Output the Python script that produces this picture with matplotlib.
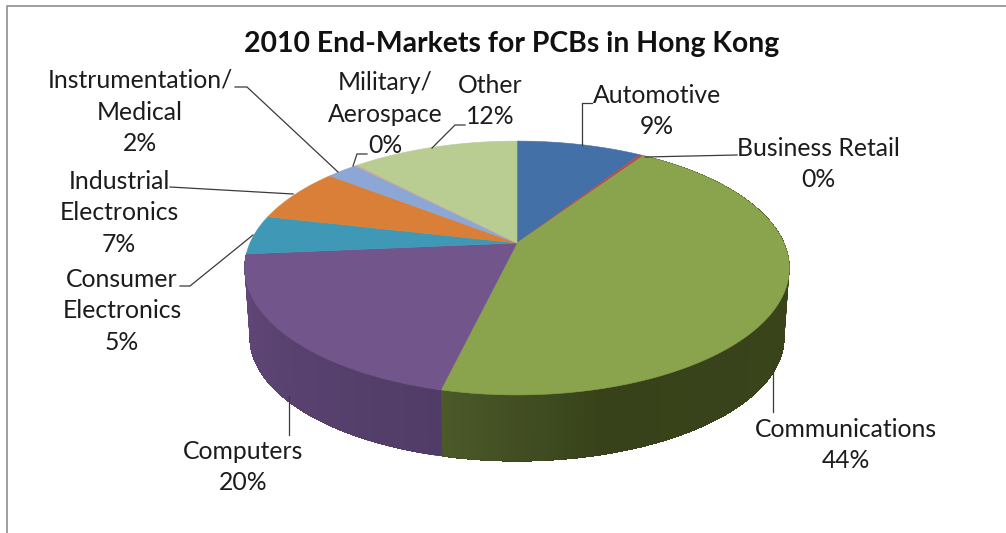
import numpy as np
import matplotlib
matplotlib.use("Agg")
import matplotlib.pyplot as plt
from matplotlib.colors import to_rgb

plt.rcParams['font.family'] = ['Lato', 'DejaVu Sans']

# Data, clockwise from 12 o'clock
categories = ["Automotive", "Business Retail", "Communications", "Computers",
              "Consumer\nElectronics", "Industrial\nElectronics",
              "Instrumentation/\nMedical", "Military/\nAerospace", "Other"]
shares = [9.0, 0.3, 44.4, 19.9, 5.0, 7.0, 2.2, 0.2, 12.0]
top_colors = ["#4470a8", "#b0524f", "#8aa34d", "#71558b", "#3f98b5",
              "#da7f37", "#8ca7d6", "#c3a6a4", "#b9cc92"]
title = "2010 End-Markets for PCBs in Hong Kong"

# Wall shading: angle (deg clockwise from top) -> colour
green_wall_angles = [95, 165, 196]
green_wall_colors = ["#3a451c", "#37421a", "#4e5c2b"]
purple_wall_angles = [190, 230, 265]
purple_wall_colors = ["#4f3c66", "#5a4270", "#62487c"]
wall_stops = {2: (green_wall_angles, green_wall_colors),
              3: (purple_wall_angles, purple_wall_colors)}

# Label layout: text centre (px) and leader polyline (px)
label_pos = [(657, 111), (818, 164), (846, 445), (243, 467), (122, 311),
             (119, 213), (140, 112), (385, 114), (490, 101)]
leaders = [[(582, 145), (582, 103), (592, 103)],
           [(645, 157), (737, 155)],
           [(773, 356), (773, 412)],
           [(289, 396), (289, 435)],
           [(253, 235), (190, 286), (180, 286)],
           [(293, 194), (170, 187)],
           [(338, 172), (247, 87), (235, 87)],
           [(353, 166), (357, 154), (367, 154)],
           [(432, 148), (455, 125), (465, 125)]]

# Projection of the pie (px)
CX, CY, RX, RY, K = 517, 243, 267, 122, 0.197
BX, BY, BRX, BRY = 517, 313, 262, 119


def project(t, cx, cy, rx, ry):
    x, y = np.sin(t), np.cos(t)
    w = 1 + K * y
    return cx + rx * x / w, cy - ry * y / w


fig = plt.figure(figsize=(10.06, 5.33), dpi=100, facecolor="white")
ax = fig.add_axes([0, 0, 1, 1])
ax.set_xlim(0, 1006)
ax.set_ylim(533, 0)
ax.axis("off")

# Frame
ax.plot([7.5, 7.5, 1006], [533, 5.5, 5.5], color="#8e8e8e", lw=1.2, zorder=1)

edges = np.radians(np.concatenate([[0], np.cumsum(shares)]) * 3.6)

# Side walls (only the front-facing slices show one)
for i, (a, c) in wall_stops.items():
    n = int(np.degrees(edges[i + 1] - edges[i])) * 3
    ts = np.linspace(edges[i], edges[i + 1], n)
    xt, yt = project(ts, CX, CY, RX, RY)
    xb, yb = project(ts, BX, BY, BRX, BRY)
    rgb = np.array([to_rgb(v) for v in c])
    mids = np.degrees(ts[:-1])
    cols = np.column_stack([np.interp(mids, a, rgb[:, k]) for k in range(3)])
    # painter's overlap: each strip runs on to the far end of the slice, the next repaints it
    for j in range(n - 1):
        ax.fill(np.r_[xt[j:], xb[j:][::-1]], np.r_[yt[j:], yb[j:][::-1]],
                facecolor=cols[j], edgecolor="none", zorder=2)

# Top faces
for i, col in enumerate(top_colors):
    ts = np.linspace(edges[i], edges[i + 1], max(2, int(np.degrees(edges[i + 1] - edges[i])) * 2))
    xt, yt = project(ts, CX, CY, RX, RY)
    ax.fill(np.r_[CX, xt], np.r_[CY, yt], facecolor=col, edgecolor=col, lw=0.4, zorder=3)

# Labels
for name, v, (x, y), pts in zip(categories, shares, label_pos, leaders):
    ax.text(x, y, f"{name}\n{round(v)}%", ha="center", va="center", multialignment="center",
            fontsize=17.8, linespacing=1.46, color="#1c1c1c", zorder=5)
    px, py = zip(*pts)
    ax.plot(px, py, color="#3a3a3a", lw=0.9, zorder=4)

ax.text(512, 44, title, ha="center", va="center", fontsize=20.4, fontweight="bold", color="#111111", zorder=5)

fig.savefig("out.png", dpi=100, facecolor="white")
